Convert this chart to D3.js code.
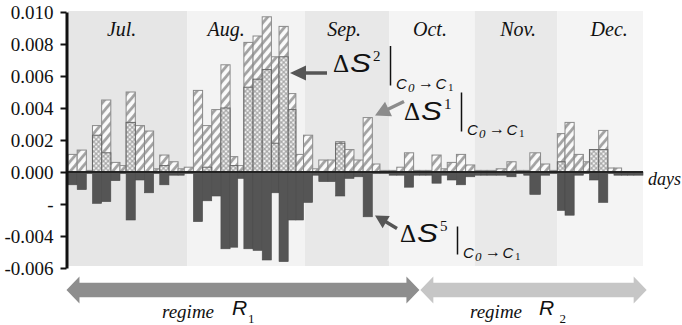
<!DOCTYPE html>
<html><head><meta charset="utf-8">
<script src="https://cdn.jsdelivr.net/npm/d3@7"></script>
<style>body{margin:0;background:#fff;} svg{display:block;}</style>
</head><body>
<svg id="chart" width="682" height="325"></svg>
<script>
// ---------- data ----------
const months = ["Jul.","Aug.","Sep.","Oct.","Nov.","Dec."];
const monthStart = [0, 39, 77.5, 105, 133, 160];
const monthEnd   = [39, 77.5, 105, 133, 160, 188];

// bar slots (in day units along the x-domain); each bar spans barStart[i] .. barStart[i+1]
const barStart = [0,3,6,8,11,14,17,19,22,25,28,30,33,36,38,
  41,44,47,50,53,55.5,57.5,60.5,63.5,66.5,69,72,74.5,
  77,80,82,85,87.5,90.5,93.5,96.5,99.5,102,
  105,107.5,110,113,115,117,119,122,124,127,130,
  133,135,137,140,143.5,146.5,149,151,154.5,157.5,
  160,162.5,165.5,168.5,170.5,173.5,176.5,178.5,181,183,185];
const lastEnd = 188;

const dS1 = [.0011,.00137,.0001,.0029,.0045,.0006,.0004,.0050,.0029,.00256,.0002,.00106,.00064,.0002,.0003,
  .0051,.0029,.0039,.0067,.00096,.0004,.0081,.0085,.0097,.0072,.0091,.0049,.0011,
  .0023,.0002,.00075,.00075,.0019,.0014,.00075,.0034,.0005,.0001,
  .0001,.0003,.0012,.0001,.0001,.0001,.00106,.0002,.0006,.0011,.00044,
  .0001,.0001,.0001,.0002,.00064,.0001,.0001,.0012,.0005,.0001,
  .0024,.0031,.0011,.00064,.0014,.0026,.00025,.00025,0,0,0];
const dS2 = [0,0,0,.0023,.0012,0,0,.0031,0,0,0,.0004,0,0,0,
  0,.0003,0,.0040,.0004,0,.0053,.0058,.0064,.0018,.0072,.0039,0,
  0,0,0,0,.0018,0,0,0,0,0,
  0,0,0,0,0,0,0,0,0,0,0,
  0,0,0,0,0,0,0,0,0,0,
  .00064,0,0,0,.0014,.0014,0,0,0,0,0];
const dS5 = [-.0008,-.0011,-.0001,-.00196,-.00185,-.00054,-.0001,-.0030,-.0005,-.0013,-.0001,-.0008,-.0002,-.0002,-.0001,
  -.0031,-.0018,-.0015,-.0048,-.0047,-.0004,-.0048,-.0049,-.0055,-.0013,-.0056,-.0030,-.0030,
  -.0019,-.0002,-.0006,-.0006,-.0015,-.0004,-.0003,-.0028,-.0001,-.0001,
  -.0002,-.0002,-.00095,-.0002,-.0002,-.0002,-.0007,-.0002,-.0005,-.0008,-.0003,
  -.0002,-.0002,-.0002,-.0002,-.0003,-.0001,-.0002,-.0014,-.0002,-.0001,
  -.0024,-.0027,-.0002,-.0001,-.0005,-.0019,-.0001,-.0002,-.0002,-.0002,-.0002];

const yTicks = [0.010,0.008,0.006,0.004,0.002,0,-0.002,-0.004,-0.006];
const yTickLabels = ["0.010","0.008","0.006","0.004","0.002","0.000","-","-0.004","-0.006"];

const regimeNames = ["1","2"];
const regimeStart = [-0.5, 115.2];
const regimeEnd   = [114.9, 189.2];

// ---------- layout ----------
const SERIF = "Liberation Serif, Times New Roman, serif";
const SANS = "Liberation Sans, Arial, sans-serif";
const svg = d3.select("#chart");
const x = d3.scaleLinear().domain([0, 188]).range([68, 643]);
const y = d3.scaleLinear().domain([-0.006, 0.010]).range([268, 12]);

const bars = barStart.map((s,i)=>({s, e: i<barStart.length-1 ? barStart[i+1] : lastEnd, a:dS1[i], b:dS2[i], c:dS5[i]}));

const defs = svg.append("defs");
const hatch = defs.append("pattern").attr("id","hatch").attr("patternUnits","userSpaceOnUse")
  .attr("width",6.5).attr("height",6.5).attr("patternTransform","rotate(40)");
hatch.append("rect").attr("width",6.5).attr("height",6.5).attr("fill","#fbfbfb");
hatch.append("line").attr("x1",1.5).attr("x2",1.5).attr("y1",0).attr("y2",6.5)
  .attr("stroke","#a2a2a2").attr("stroke-width",2.8);
const cross = defs.append("pattern").attr("id","cross").attr("patternUnits","userSpaceOnUse")
  .attr("width",3.4).attr("height",3.4).attr("patternTransform","rotate(45)");
cross.append("rect").attr("width",3.4).attr("height",3.4).attr("fill","#a8a8a8");
cross.append("circle").attr("cx",1.7).attr("cy",1.7).attr("r",1.25).attr("fill","#f2f2f2");

// month backgrounds
const bgCols = ["#e6e6e6","#f3f3f3","#e8e8e8","#f4f4f4","#e9e9e9","#f4f4f4"];
svg.append("g").selectAll("rect").data(months).join("rect")
  .attr("x",(d,i)=>x(monthStart[i])).attr("width",(d,i)=>x(monthEnd[i])-x(monthStart[i]))
  .attr("y",11).attr("height",255).attr("fill",(d,i)=>bgCols[i]);

// month labels
const labelDx = [-6,-20,-3,-2,2,9];
svg.append("g").selectAll("text").data(months).join("text")
  .attr("x",(d,i)=>(x(monthStart[i])+x(monthEnd[i]))/2+labelDx[i]).attr("y",35.5)
  .attr("text-anchor","middle").style("font-family",SERIF).style("font-style","italic")
  .style("font-size","20px").attr("fill","#111").text(d=>d);

// S1 hatched bars
svg.append("g").selectAll("rect").data(bars.filter(d=>d.a>0)).join("rect")
  .attr("x",d=>x(d.s)).attr("width",d=>x(d.e)-x(d.s))
  .attr("y",d=>y(d.a)).attr("height",d=>y(0)-y(d.a))
  .attr("fill","url(#hatch)").attr("stroke","#8a8a8a").attr("stroke-width",1);
// S2 cross bars
svg.append("g").selectAll("rect").data(bars.filter(d=>d.b>0)).join("rect")
  .attr("x",d=>x(d.s)).attr("width",d=>x(d.e)-x(d.s))
  .attr("y",d=>y(d.b)).attr("height",d=>y(0)-y(d.b))
  .attr("fill","url(#cross)").attr("stroke","#666").attr("stroke-width",1);
// S5 negative bars
svg.append("g").selectAll("rect").data(bars.filter(d=>d.c<0)).join("rect")
  .attr("x",d=>x(d.s)).attr("width",d=>x(d.e)-x(d.s))
  .attr("y",y(0)).attr("height",d=>y(d.c)-y(0))
  .attr("fill","#555").attr("stroke","#4a4a4a").attr("stroke-width",0.6);

// zero line
svg.append("line").attr("x1",x(0)).attr("x2",x(188)).attr("y1",y(0)).attr("y2",y(0))
  .attr("stroke","#222").attr("stroke-width",2);

// y axis
const yAxis = d3.axisLeft(y).tickValues(yTicks).tickFormat((d,i)=>yTickLabels[i])
  .tickSize(6).tickSizeOuter(0).tickPadding(7);
const ag = svg.append("g").attr("transform","translate(66.5,0)").call(yAxis);
ag.attr("font-family",null).attr("font-size",null);
ag.select(".domain").attr("stroke","#111").attr("stroke-width",3);
ag.selectAll(".tick line").attr("stroke","#111").attr("stroke-width",2);
ag.selectAll(".tick text").style("font-family",SERIF).style("font-size","19px").attr("fill","#111");

// days label
svg.append("text").attr("x",648).attr("y",185).style("font-family",SERIF).style("font-style","italic")
  .style("font-size","18px").attr("fill","#111").text("days");

// ---------- annotation arrows ----------
function arrow(x1,y1,x2,y2,hl,hw,lw,col){
  const L=Math.hypot(x2-x1,y2-y1), ux=(x2-x1)/L, uy=(y2-y1)/L, nx=-uy, ny=ux;
  const bx=x2-ux*hl, by=y2-uy*hl;
  const p=[[x1+nx*lw/2,y1+ny*lw/2],[bx+nx*lw/2,by+ny*lw/2],[bx+nx*hw,by+ny*hw],[x2,y2],
           [bx-nx*hw,by-ny*hw],[bx-nx*lw/2,by-ny*lw/2],[x1-nx*lw/2,y1-ny*lw/2]];
  svg.append("polygon").attr("points",p.map(q=>q.join(",")).join(" ")).attr("fill",col);
}
arrow(327,73,290,73,16,7.5,3.5,"#555");
arrow(404,101.5,375,115.5,15,8,3.5,"#8c8c8c");
arrow(397,228.5,375,215.5,13,7,3.5,"#555");

function t(g,xx,yy,fam,size,style,txt){
  const e=g.append("text").attr("x",xx).attr("y",yy).style("font-family",fam).style("font-size",size+"px").text(txt);
  if(style) e.style("font-style",style);
  return e;
}
function deltaLabel(x0,base,sup,barTop,barBot){
  const g=svg.append("g").attr("fill","#111");
  t(g,x0,base,SERIF,25,null,"Δ");
  t(g,x0+17,base,SANS,25,"italic","S").attr("textLength",21).attr("lengthAdjust","spacingAndGlyphs");
  t(g,x0+40,base-11,SERIF,15,null,sup);
  g.append("line").attr("x1",x0+57.5).attr("x2",x0+57.5).attr("y1",barTop).attr("y2",barBot).attr("stroke","#111").attr("stroke-width",1.5);
  const sb=barBot+3.5, sx=x0+63;
  t(g,sx,sb,SANS,15,"italic","C");
  t(g,sx+12,sb+2.5,SERIF,13,"italic","0");
  t(g,sx+22,sb-1,SERIF,16,null,"→");
  t(g,sx+39.5,sb,SANS,15,"italic","C");
  t(g,sx+52,sb+1.5,SERIF,11,null,"1");
}
deltaLabel(333,71.5,"2",46,85.5);
deltaLabel(404,120,"1",92.5,131.5);
deltaLabel(400,241.5,"5",226.5,254.5);

// ---------- regime arrows ----------
const regCols = ["#8e8e8e","#c6c6c6"];
regimeNames.forEach((r,i)=>{
  const a=x(regimeStart[i]), b=x(regimeEnd[i]), cy=290, hl=13, hh=13.5, bh=7.3;
  const p=[[a,cy],[a+hl,cy-hh],[a+hl,cy-bh],[b-hl,cy-bh],[b-hl,cy-hh],[b,cy],[b-hl,cy+hh],[b-hl,cy+bh],[a+hl,cy+bh],[a+hl,cy+hh]];
  svg.append("polygon").attr("points",p.map(q=>q.join(",")).join(" ")).attr("fill",regCols[i]);
});
const regText = [[162,232,248],[470,539,559.5]];
regimeNames.forEach((r,i)=>{
  const g=svg.append("g").attr("fill","#111");
  t(g,regText[i][0],318,SERIF,19,"italic","regime");
  t(g,regText[i][1],315,SANS,21,"italic","R");
  t(g,regText[i][2],323,SERIF,13,null,r);
});
</script>
</body></html>
